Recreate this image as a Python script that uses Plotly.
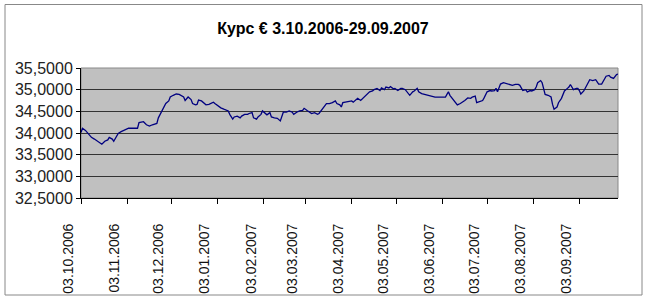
import pandas as pd
import plotly.graph_objects as go

title_text = "Курс € 3.10.2006-29.09.2007"
start_date = "2006-10-03"
end_date = "2007-09-29"

# day offsets from 03.10.2006
day_offsets = [0, 1, 3, 5, 7, 9, 11, 14, 16, 18, 19, 21, 22, 24, 25, 27, 29, 32, 35, 38, 39, 42, 44, 46, 48, 51, 52, 54, 56, 57, 59, 60, 62, 64, 66, 69, 70, 72, 73,
               74, 75, 77, 78, 79, 81, 83, 84, 86, 88, 89, 90, 92, 94, 96, 99, 100, 102, 103, 105, 107, 108, 110, 112, 113, 115, 116, 118, 119, 121, 122, 124, 125, 127, 128, 130, 132, 134, 135, 136, 138, 140, 142, 143, 145, 147,
               149, 150, 152, 153, 155, 157, 159, 160, 162, 164, 165, 167, 169, 171, 172, 174, 175, 176, 178, 181, 182, 183, 185, 186, 188, 189, 191, 193, 194, 196, 197, 199, 201, 202, 204, 205, 207, 208, 210, 211, 213, 215, 216, 218, 219, 221,
               223, 224, 226, 227, 229, 230, 232, 233, 235, 237, 238, 240, 242, 245, 246, 247, 248, 250, 251, 253, 255, 257, 258, 260, 262, 263, 265, 266, 268, 270, 271, 273, 275, 276, 278, 279, 280, 282, 284, 286, 288, 290, 292, 294, 295,
               296, 297, 299, 300, 302, 303, 305, 306, 307, 309, 310, 311, 312, 314, 316, 317, 318, 320, 321, 323, 324, 325, 327, 328, 329, 331, 333, 334, 335, 336, 338, 339, 340, 341, 342, 344, 346, 347, 348, 350, 352, 353, 355, 356, 358, 359, 360, 361]

rates = [34.01, 34.11, 34.06, 33.97, 33.90, 33.86, 33.81, 33.74, 33.81, 33.84, 33.90, 33.86, 33.81, 33.91, 33.99, 34.03, 34.07, 34.11, 34.11, 34.11, 34.24, 34.26, 34.19, 34.16, 34.19, 34.22, 34.35, 34.49, 34.60, 34.68, 34.74, 34.83, 34.87, 34.90, 34.89, 34.83, 34.75, 34.83, 34.80,
         34.77, 34.68, 34.65, 34.66, 34.76, 34.74, 34.68, 34.65, 34.66, 34.70, 34.71, 34.68, 34.62, 34.58, 34.55, 34.51, 34.43, 34.32, 34.37, 34.39, 34.35, 34.39, 34.43, 34.43, 34.45, 34.47, 34.35, 34.32, 34.37, 34.43, 34.51, 34.45, 34.42, 34.47, 34.37, 34.35, 34.34, 34.28, 34.37, 34.48, 34.48, 34.51, 34.48, 34.43, 34.48, 34.51,
         34.52, 34.57, 34.52, 34.49, 34.45, 34.47, 34.43, 34.45, 34.55, 34.62, 34.68, 34.68, 34.70, 34.74, 34.68, 34.65, 34.60, 34.70, 34.71, 34.72, 34.74, 34.71, 34.76, 34.80, 34.75, 34.78, 34.85, 34.90, 34.95, 34.97, 35.00, 35.03, 34.98, 35.04, 35.00, 35.06, 35.04, 35.07, 35.02, 35.03, 34.98, 35.03, 35.03, 35.00, 34.95, 34.87,
         34.95, 34.97, 35.03, 34.95, 34.91, 34.90, 34.89, 34.87, 34.85, 34.83, 34.83, 34.83, 34.83, 34.83, 34.89, 34.95, 34.87, 34.77, 34.72, 34.65, 34.68, 34.72, 34.75, 34.81, 34.80, 34.83, 34.85, 34.70, 34.72, 34.75, 34.81, 34.95, 34.98, 34.97, 34.98, 35.03, 34.95, 35.13, 35.16, 35.14, 35.13, 35.10, 35.12, 35.12, 35.10,
         35.04, 34.98, 35.00, 34.95, 34.98, 34.97, 35.00, 35.06, 35.16, 35.21, 35.16, 35.00, 34.89, 34.87, 34.83, 34.66, 34.55, 34.60, 34.70, 34.80, 34.90, 34.97, 35.03, 35.06, 35.12, 35.00, 35.03, 35.03, 34.98, 34.90, 34.97, 35.03, 35.08, 35.16, 35.23, 35.21, 35.23, 35.18, 35.13, 35.13, 35.23, 35.31, 35.33, 35.29, 35.26, 35.31, 35.35, 35.36]

tick_dates = ["2006-10-03", "2006-11-03", "2006-12-03", "2007-01-03", "2007-02-03", "2007-03-03",
              "2007-04-03", "2007-05-03", "2007-06-03", "2007-07-03", "2007-08-03", "2007-09-03"]
tick_labels = ["03.10.2006", "03.11.2006", "03.12.2006", "03.01.2007", "03.02.2007", "03.03.2007",
               "03.04.2007", "03.05.2007", "03.06.2007", "03.07.2007", "03.08.2007", "03.09.2007"]
y_ticks = [32.5, 33.0, 33.5, 34.0, 34.5, 35.0, 35.5]

dates = pd.Timestamp(start_date) + pd.to_timedelta(day_offsets, unit="D")

fig = go.Figure()
fig.add_trace(go.Scatter(x=dates, y=rates, mode="lines",
                         line=dict(color="#000080", width=1.3), hoverinfo="skip"))

W, H = 646, 300
L, R, T, B = 81, 28, 68, 102
pw, ph = W - L - R, H - T - B

def px(x):
    return (x - L) / pw

def py(y):
    return (H - B - y) / ph

fig.update_layout(
    width=W, height=H,
    margin=dict(l=L, r=R, t=T, b=B, autoexpand=False),
    paper_bgcolor="white",
    plot_bgcolor="#c0c0c0",
    separators=", ",
    showlegend=False,
    font=dict(family="Liberation Sans", color="#111"),
    title=dict(text=title_text, x=0.5, xref="container", xanchor="center",
               y=1 - 28 / H, yref="container", yanchor="middle", automargin=False,
               font=dict(size=16, color="#000", family="Liberation Sans", weight="bold")),
    xaxis=dict(type="date", range=[start_date, end_date], automargin=False,
               tickmode="array", tickvals=tick_dates, ticktext=tick_labels,
               tickangle=-90, tickfont=dict(size=14, color="#111"),
               ticks="outside", ticklen=5, tickcolor="#000", tickwidth=1,
               showline=True, linecolor="#000", linewidth=1,
               showgrid=False, zeroline=False,
               ticklabelstandoff=14, ticklabelshift=-13),
    yaxis=dict(range=[32.5, 35.5], tickmode="array", tickvals=y_ticks, automargin=False,
               tickformat=".4f", tickfont=dict(size=16, color="#222"),
               ticks="outside", ticklen=4, tickcolor="#000", tickwidth=1,
               showline=True, linecolor="#000", linewidth=1,
               showgrid=True, gridcolor="#333", gridwidth=1, zeroline=False),
    shapes=[
        dict(type="rect", xref="paper", yref="paper", x0=0, x1=1, y0=0, y1=1,
             line=dict(color="#888", width=1), layer="between"),
        dict(type="rect", xref="paper", yref="paper",
             x0=px(5), x1=px(642), y0=py(295), y1=py(4.5),
             line=dict(color="#888", width=1), fillcolor="rgba(0,0,0,0)"),
    ],
)

fig.write_html("out.html")
